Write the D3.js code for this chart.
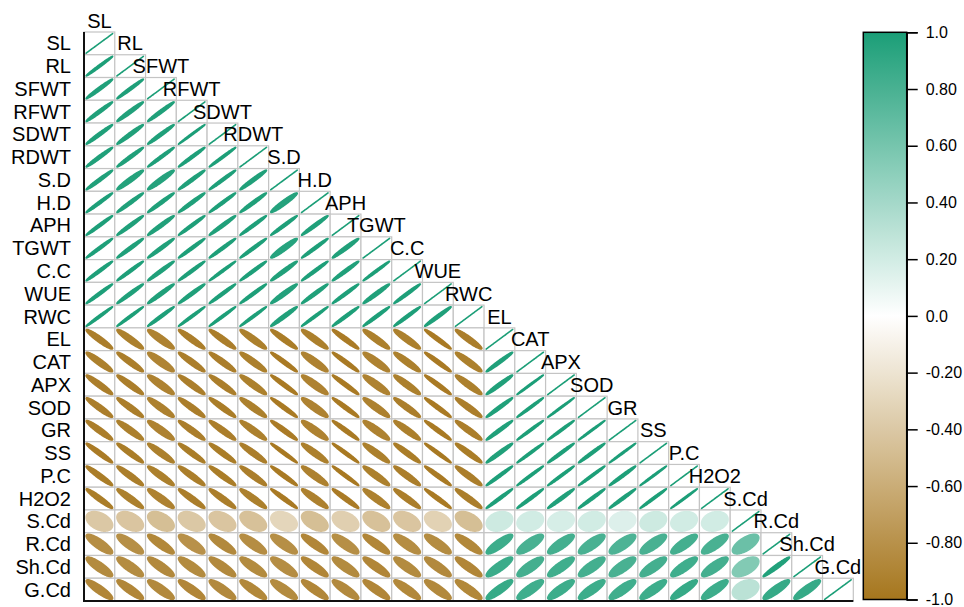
<!DOCTYPE html>
<html>
<head>
<meta charset="utf-8">
<script src="https://cdn.jsdelivr.net/npm/d3@7"></script>
<style>
  html, body { margin: 0; padding: 0; background: #fff; }
  svg { display: block; font-family: "Liberation Sans", Arial, Helvetica, sans-serif; }
</style>
</head>
<body>
<svg id="chart" width="964" height="607"></svg>
<script>
// Variable names, in row/column order
const variables = ["SL","RL","SFWT","RFWT","SDWT","RDWT","S.D","H.D","APH","TGWT","C.C","WUE","RWC",
  "EL","CAT","APX","SOD","GR","SS","P.C","H2O2","S.Cd","R.Cd","Sh.Cd","G.Cd"];

// Lower-triangle correlations, one array per row (columns before the diagonal)
const corrSL    = [];
const corrRL    = [0.99];
const corrSFWT  = [0.98, 0.985];
const corrRFWT  = [0.98, 0.975, 0.98];
const corrSDWT  = [0.98, 0.975, 0.98, 0.995];
const corrRDWT  = [0.98, 0.98, 0.985, 0.985, 0.99];
const corrSD    = [0.98, 0.96, 0.955, 0.98, 0.985, 0.975];
const corrHD    = [0.985, 0.98, 0.98, 0.98, 0.985, 0.98, 0.955];
const corrAPH   = [0.985, 0.98, 0.975, 0.985, 0.98, 0.985, 0.985, 0.98];
const corrTGWT  = [0.985, 0.98, 0.98, 0.985, 0.985, 0.985, 0.95, 0.985, 0.975];
const corrCC    = [0.985, 0.985, 0.98, 0.985, 0.99, 0.985, 0.975, 0.985, 0.98, 0.99];
const corrWUE   = [0.985, 0.98, 0.975, 0.98, 0.985, 0.985, 0.965, 0.98, 0.985, 0.975, 0.985];
const corrRWC   = [0.99, 0.99, 0.985, 0.99, 0.99, 0.99, 0.975, 0.99, 0.985, 0.985, 0.985, 0.98];
const corrEL    = [-0.94, -0.93, -0.91, -0.94, -0.94, -0.93, -0.95, -0.93, -0.96, -0.93, -0.93, -0.97, -0.94];
const corrCAT   = [-0.93, -0.94, -0.90, -0.94, -0.94, -0.93, -0.97, -0.91, -0.97, -0.91, -0.93, -0.97, -0.93, 0.98];
const corrAPX   = [-0.94, -0.94, -0.91, -0.94, -0.94, -0.93, -0.97, -0.91, -0.97, -0.91, -0.93, -0.97, -0.93, 0.975, 0.995];
const corrSOD   = [-0.94, -0.94, -0.92, -0.94, -0.95, -0.93, -0.97, -0.91, -0.97, -0.92, -0.94, -0.97, -0.94, 0.98, 0.99, 0.995];
const corrGR    = [-0.94, -0.93, -0.91, -0.94, -0.94, -0.93, -0.96, -0.91, -0.97, -0.91, -0.93, -0.97, -0.94, 0.98, 0.99, 0.99, 0.995];
const corrSS    = [-0.96, -0.95, -0.93, -0.95, -0.95, -0.94, -0.98, -0.93, -0.98, -0.93, -0.95, -0.98, -0.95, 0.975, 0.99, 0.985, 0.985, 0.995];
const corrPC    = [-0.95, -0.94, -0.93, -0.94, -0.95, -0.94, -0.97, -0.92, -0.98, -0.93, -0.94, -0.97, -0.94, 0.985, 0.99, 0.99, 0.99, 0.985, 0.995];
const corrH2O2  = [-0.95, -0.93, -0.91, -0.94, -0.94, -0.93, -0.97, -0.92, -0.96, -0.92, -0.94, -0.97, -0.94, 0.985, 0.985, 0.98, 0.985, 0.985, 0.99, 0.995];
const corrSCd   = [-0.40, -0.42, -0.47, -0.40, -0.42, -0.45, -0.30, -0.47, -0.35, -0.45, -0.42, -0.33, -0.47, 0.22, 0.20, 0.18, 0.20, 0.15, 0.22, 0.20, 0.20];
const corrRCd   = [-0.83, -0.82, -0.87, -0.80, -0.86, -0.83, -0.82, -0.88, -0.82, -0.88, -0.83, -0.84, -0.87, 0.85, 0.80, 0.82, 0.80, 0.78, 0.80, 0.82, 0.80, 0.65];
const corrShCd  = [-0.85, -0.84, -0.86, -0.85, -0.86, -0.85, -0.83, -0.88, -0.85, -0.88, -0.85, -0.86, -0.88, 0.86, 0.82, 0.84, 0.82, 0.80, 0.82, 0.84, 0.82, 0.55, 0.97];
const corrGCd   = [-0.88, -0.88, -0.86, -0.88, -0.86, -0.87, -0.85, -0.88, -0.86, -0.88, -0.87, -0.86, -0.87, 0.88, 0.84, 0.85, 0.85, 0.84, 0.85, 0.88, 0.85, 0.30, 0.88, 0.88];

const lowerRows = [corrSL, corrRL, corrSFWT, corrRFWT, corrSDWT, corrRDWT, corrSD, corrHD, corrAPH,
  corrTGWT, corrCC, corrWUE, corrRWC, corrEL, corrCAT, corrAPX, corrSOD, corrGR, corrSS, corrPC,
  corrH2O2, corrSCd, corrRCd, corrShCd, corrGCd];

// Colour legend ticks
const legendTicks = [1, 0.8, 0.6, 0.4, 0.2, 0, -0.2, -0.4, -0.6, -0.8, -1];
const legendTickLabels = ["1.0","0.80","0.60","0.40","0.20","0.0","-0.20","-0.40","-0.60","-0.80","-1.0"];

const svg = d3.select("#chart");

const gridLeft = 84, gridRight = 853.3, gridTop = 32, gridBottom = 601;
const x = d3.scaleBand().domain(variables).range([gridLeft, gridRight]).padding(0);
const y = d3.scaleBand().domain(variables).range([gridTop, gridBottom]).padding(0);
const color = d3.scaleLinear().domain([-1, 0, 1]).range(["#A6761D", "#FFFFFF", "#1B9E77"]);

// Flatten the lower triangle (diagonal = 1)
const cells = [];
lowerRows.forEach((row, i) => {
  row.forEach((r, j) => cells.push({ row: variables[i], col: variables[j], r }));
  cells.push({ row: variables[i], col: variables[i], r: 1 });
});

const cw = x.bandwidth(), ch = y.bandwidth();

// Grid squares
svg.append("g").selectAll("rect").data(cells).join("rect")
  .attr("x", d => x(d.col)).attr("y", d => y(d.row))
  .attr("width", cw).attr("height", ch)
  .attr("fill", "white").attr("stroke", "#c4c4c4").attr("stroke-width", 1.2);

// Ellipse outline for a correlation, in unit cell coordinates
function ellipsePoints(rho, n = 99) {
  const a = Math.acos(Math.max(-1, Math.min(1, rho))) / 2;
  return d3.range(n).map(k => {
    const t = 2 * Math.PI * k / (n - 1);
    return [Math.cos(t + a) / 2, Math.cos(t - a) / 2];
  });
}
const shrink = 0.86;
const line = d3.line();
svg.append("g").selectAll("path").data(cells).join("path")
  .attr("d", d => {
    const cx = x(d.col) + cw / 2, cy = y(d.row) + ch / 2;
    return line(ellipsePoints(d.r).map(([ex, ey]) => [cx + ex * cw * shrink, cy - ey * ch * shrink])) + "Z";
  })
  .attr("fill", d => color(d.r))
  .attr("stroke", d => color(d.r))
  .attr("stroke-width", 1.6)
  .attr("stroke-linejoin", "round");

// Axis frame lines
svg.append("line").attr("x1", gridLeft).attr("x2", gridLeft).attr("y1", gridTop).attr("y2", gridBottom + 1)
  .attr("stroke", "#111").attr("stroke-width", 2);
svg.append("line").attr("x1", gridLeft - 1).attr("x2", gridRight).attr("y1", gridBottom).attr("y2", gridBottom)
  .attr("stroke", "#111").attr("stroke-width", 2);

// Row labels
svg.append("g").selectAll("text").data(variables).join("text")
  .attr("x", 71).attr("y", d => y(d) + ch / 2)
  .attr("text-anchor", "end").attr("dominant-baseline", "central")
  .attr("font-size", 20).attr("fill", "#000").text(d => d);

// Diagonal column labels: each above its own diagonal cell
svg.append("g").selectAll("text").data(variables).join("text")
  .attr("x", d => x(d) + cw / 2)
  .attr("y", d => y(d) - ch / 2)
  .attr("text-anchor", "middle").attr("dominant-baseline", "central")
  .attr("font-size", 20).attr("fill", "#000").text(d => d);

// Colour legend
const barX = 863.3, barW = 43.4, barTop = 32.3, barBottom = 599.5;
const legendY = d3.scaleLinear().domain([-1, 1]).range([barBottom, barTop]);
const defs = svg.append("defs");
const grad = defs.append("linearGradient").attr("id", "corrGrad")
  .attr("x1", 0).attr("x2", 0).attr("y1", 1).attr("y2", 0);
d3.range(-1, 1.0001, 0.1).forEach(v => {
  grad.append("stop").attr("offset", (v + 1) / 2).attr("stop-color", color(v));
});
svg.append("rect").attr("x", barX).attr("y", barTop).attr("width", barW).attr("height", barBottom - barTop)
  .attr("fill", "url(#corrGrad)").attr("stroke", "#000").attr("stroke-width", 1.5);

const legendAxis = d3.axisRight(legendY).tickValues(legendTicks)
  .tickFormat((d, i) => legendTickLabels[i]).tickSize(11).tickPadding(8);
const lg = svg.append("g").attr("transform", `translate(${barX + barW},0)`).call(legendAxis);
lg.select(".domain").attr("stroke", "#000").attr("stroke-width", 1.5);
lg.selectAll(".tick line").attr("stroke", "#000").attr("stroke-width", 1.5);
lg.selectAll(".tick text").attr("font-size", 16).attr("fill", "#000")
  .attr("font-family", "\"Liberation Sans\", Arial, sans-serif");
</script>
</body>
</html>
